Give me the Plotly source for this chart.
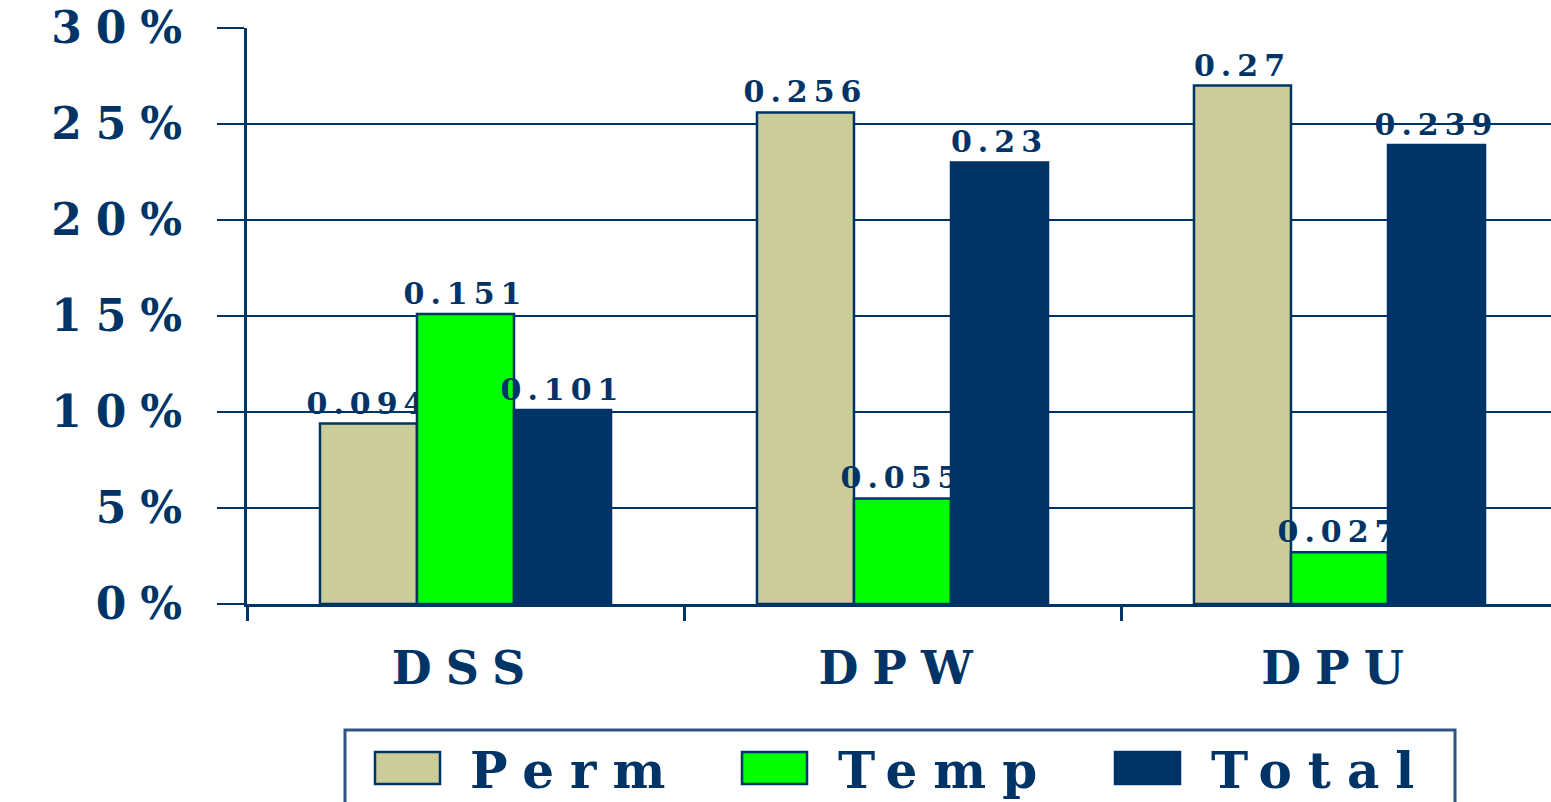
import plotly.graph_objects as go

categories = ["DSS", "DPW", "DPU"]
series_names = ["Perm", "Temp", "Total"]
perm = [0.094, 0.256, 0.27]
temp = [0.151, 0.055, 0.027]
total = [0.101, 0.23, 0.239]
y_tickvals = [0, 0.05, 0.10, 0.15, 0.20, 0.25, 0.30]
colors = ["#CCCC99", "#00FF00", "#003366"]
NAVY = "#003366"
FONT = "DejaVu Serif"

W, H = 1551, 802
L, T, B = 247, 28, 198
PW = W - L
PH = H - T - B


def spaced(s, ls):
    return f'<span style="letter-spacing:{ls}px">{s}</span>'


fig = go.Figure()
for name, vals, col in zip(series_names, [perm, temp, total], colors):
    fig.add_trace(go.Bar(
        name=name, x=categories, y=vals,
        marker=dict(color=col, line=dict(color=NAVY, width=2.5)),
        text=[spaced(f"{v:g}", 6) for v in vals],
        textposition="outside",
        constraintext="none",
        cliponaxis=False,
        textfont=dict(family=FONT, size=30, color=NAVY, weight="bold"),
        showlegend=False,
    ))


def px(x):
    return (x - L) / PW


def py(y):
    return (T + PH - y) / PH


shapes = [dict(type="rect", xref="paper", yref="paper",
               x0=px(345), x1=px(1455), y0=py(730), y1=py(840),
               line=dict(color="#2f5483", width=3), fillcolor="rgba(0,0,0,0)")]
annotations = []
sq_x = [375, 742, 1115]
txt_x = [468, 836, 1209]
for name, col, sx, tx in zip(series_names, colors, sq_x, txt_x):
    shapes.append(dict(type="rect", xref="paper", yref="paper",
                       x0=px(sx), x1=px(sx + 65), y0=py(784), y1=py(752),
                       line=dict(color=NAVY, width=2.5), fillcolor=col))
    annotations.append(dict(xref="paper", yref="paper", x=px(tx), y=py(770),
                            xanchor="left", yanchor="middle", showarrow=False,
                            text=spaced(name, 16),
                            font=dict(family=FONT, size=50, color=NAVY, weight="bold")))

fig.update_layout(
    width=W, height=H,
    margin=dict(l=L, r=0, t=T, b=B, pad=0),
    paper_bgcolor="white", plot_bgcolor="white",
    barmode="group", bargap=0.334, bargroupgap=0,
    shapes=shapes, annotations=annotations,
    xaxis=dict(type="category", range=[-0.5, -0.5 + PW / 437.0],
               tickson="boundaries", ticks="outside", ticklen=14, tickwidth=3,
               tickcolor=NAVY, showline=True, linecolor=NAVY, linewidth=2.5,
               showgrid=False, ticklabelstandoff=22,
               tickvals=categories,
               ticktext=[spaced(c, 14) for c in categories],
               tickfont=dict(family=FONT, size=46, color=NAVY, weight="bold")),
    yaxis=dict(range=[0, 0.30], tickvals=y_tickvals,
               ticktext=[spaced(f"{round(v * 100)}%", 14) for v in y_tickvals],
               ticks="outside", ticklen=27, tickwidth=2,
               tickcolor=NAVY, showline=True, linecolor=NAVY, linewidth=3,
               showgrid=True, gridcolor=NAVY, gridwidth=2, zeroline=False,
               ticklabelstandoff=12,
               tickfont=dict(family=FONT, size=44, color=NAVY, weight="bold")),
)

fig.write_html("out.html")
